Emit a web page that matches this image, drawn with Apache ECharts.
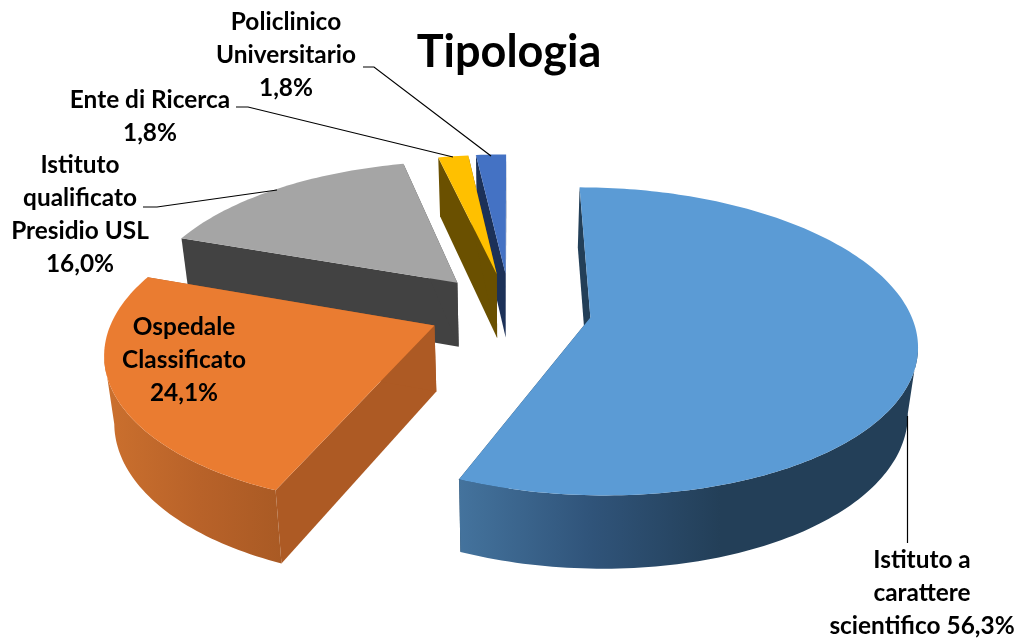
<!DOCTYPE html>
<html>
<head>
<meta charset="utf-8">
<style>html,body{margin:0;padding:0;background:#fff}#c{width:1021px;height:642px}</style>
<script src="https://cdn.jsdelivr.net/npm/echarts@6/dist/echarts.min.js"></script>
</head>
<body>
<div id="c"></div>
<script>
// ---- data ----
var chartTitle = 'Tipologia';
var categories = ['Istituto a\ncarattere\nscientifico', 'Ospedale\nClassificato', 'Istituto\nqualificato\nPresidio USL', 'Ente di Ricerca', 'Policlinico\nUniversitario'];
var values = [56.3, 24.1, 16.0, 1.8, 1.8];
var valueSeparators = [' ', '\n', '\n', '\n', '\n'];

// ---- styles ----
var topColors = ['#5b9bd5', '#ea7c31', '#a5a5a5', '#ffc000', '#4472c4'];
var faceColors = ['#233f58', '#ad5a24', '#424242', '#6a5000', '#1c3158'];
var wallStops = [
  [[459, '#44739d'], [590, '#30547a'], [720, '#233f58'], [917, '#233f58']],
  [[105, '#cb702e'], [200, '#b86229'], [283, '#a95a24']],
  [[0, '#424242'], [1021, '#424242']],
  [[0, '#6a5000'], [1021, '#6a5000']],
  [[0, '#1c3158'], [1021, '#1c3158']]
];
var drawOrder = [4, 3, 2, 1, 0];

// ---- projection of the tilted pie ----
var view = {cx: 510, cy: 310, sx: 319, sy: 148, persp: 0.154, explode: 0.255,
            depthBase: 52, depthSlope: 0.043, shrink: 0.975};
function project(X, Y) {
  var w = 1 - view.persp * Y;
  return [view.cx + view.sx * X / w, view.cy + view.sy * Y / w];
}
function lower(p) {
  return [view.cx + (p[0] - view.cx) * view.shrink, p[1] + view.depthBase + view.depthSlope * p[1]];
}

// ---- label layout: centre x, first line centre y, leader line ----
var labelLayout = [
  {x: 922, y: 560, line: [[907.5, 416], [907.5, 543]]},
  {x: 184, y: 327, line: null},
  {x: 80, y: 165, line: [[143, 207], [157, 207], [277, 190]]},
  {x: 150, y: 100, line: [[236, 107], [248, 107], [453, 157]]},
  {x: 286, y: 22, line: [[363, 67], [374, 67], [491, 156]]}
];
var labelFont = {size: 24.4, lineHeight: 33, family: 'Lato', weight: 'bold'};

var total = values.reduce(function (a, b) { return a + b; }, 0);
var starts = [], acc = 0;
values.forEach(function (v) { starts.push(acc); acc += v; });

function renderItem(params, api) {
  var i = params.dataIndex;
  var v = api.value(1);
  var a0 = starts[i] / total * Math.PI * 2;
  var a1 = a0 + v / total * Math.PI * 2;
  var mid = (a0 + a1) / 2;
  var ax = Math.sin(mid) * view.explode, ay = -Math.cos(mid) * view.explode;
  var apex = project(ax, ay);
  var arc = [], n = Math.max(6, Math.ceil((a1 - a0) / 0.02));
  var iMax = 0, iMin = 0;
  for (var k = 0; k <= n; k++) {
    var t = a0 + (a1 - a0) * k / n;
    arc.push(project(ax + Math.sin(t), ay - Math.cos(t)));
    if (arc[k][0] > arc[iMax][0]) { iMax = k; }
    if (arc[k][0] < arc[iMin][0]) { iMin = k; }
  }
  var base = (drawOrder.indexOf(i) + 1) * 10;
  var stops = wallStops[i];
  var x0 = stops[0][0], x1 = stops[stops.length - 1][0];
  var wallFill = {
    type: 'linear', x: x0, y: 0, x2: x1, y2: 0, global: true,
    colorStops: stops.map(function (s) { return {offset: (s[0] - x0) / (x1 - x0), color: s[1]}; })
  };
  var children = [
    {type: 'polygon', z2: base, shape: {points: [apex, arc[0], lower(arc[0]), lower(apex)]}, style: {fill: faceColors[i]}},
    {type: 'polygon', z2: base + 1, shape: {points: [apex, arc[n], lower(arc[n]), lower(apex)]}, style: {fill: faceColors[i]}}
  ];
  // outer wall: only the front part of the rim, from silhouette point to cut edge
  var lo = a0 < Math.PI ? iMax : 0;
  var hi = a1 > Math.PI ? iMin : n;
  if (hi > lo) {
    var rim = arc.slice(lo, hi + 1);
    children.push({type: 'polygon', z2: base + 2, shape: {points: rim.concat(rim.map(lower).reverse())}, style: {fill: wallFill}});
  }
  children.push({type: 'polygon', z2: base + 3, shape: {points: [apex].concat(arc)}, style: {fill: topColors[i]}});
  var lay = labelLayout[i];
  if (lay.line) {
    children.push({type: 'polyline', z2: 100, shape: {points: lay.line}, style: {stroke: '#000', lineWidth: 1.2, fill: null}});
  }
  children.push({type: 'text', z2: 101, x: lay.x, y: lay.y - labelFont.lineHeight / 2, style: {
    text: categories[i] + valueSeparators[i] + v.toFixed(1).replace('.', ',') + '%',
    fill: '#000', align: 'center', verticalAlign: 'top',
    fontFamily: labelFont.family, fontWeight: labelFont.weight,
    fontSize: labelFont.size, lineHeight: labelFont.lineHeight
  }});
  return {type: 'group', children: children};
}

var chart = echarts.init(document.getElementById('c'), null, {renderer: 'canvas'});
chart.setOption({
  animation: false,
  backgroundColor: '#fff',
  title: {text: chartTitle, left: 504, top: 25, textAlign: 'center',
    textStyle: {fontFamily: 'Lato', fontWeight: 'bold', fontSize: 45, color: '#000'}},
  series: [{
    type: 'custom',
    coordinateSystem: 'none',
    renderItem: renderItem,
    data: values.map(function (v, i) { return [i, v]; }),
    silent: true
  }]
});
</script>
</body>
</html>
